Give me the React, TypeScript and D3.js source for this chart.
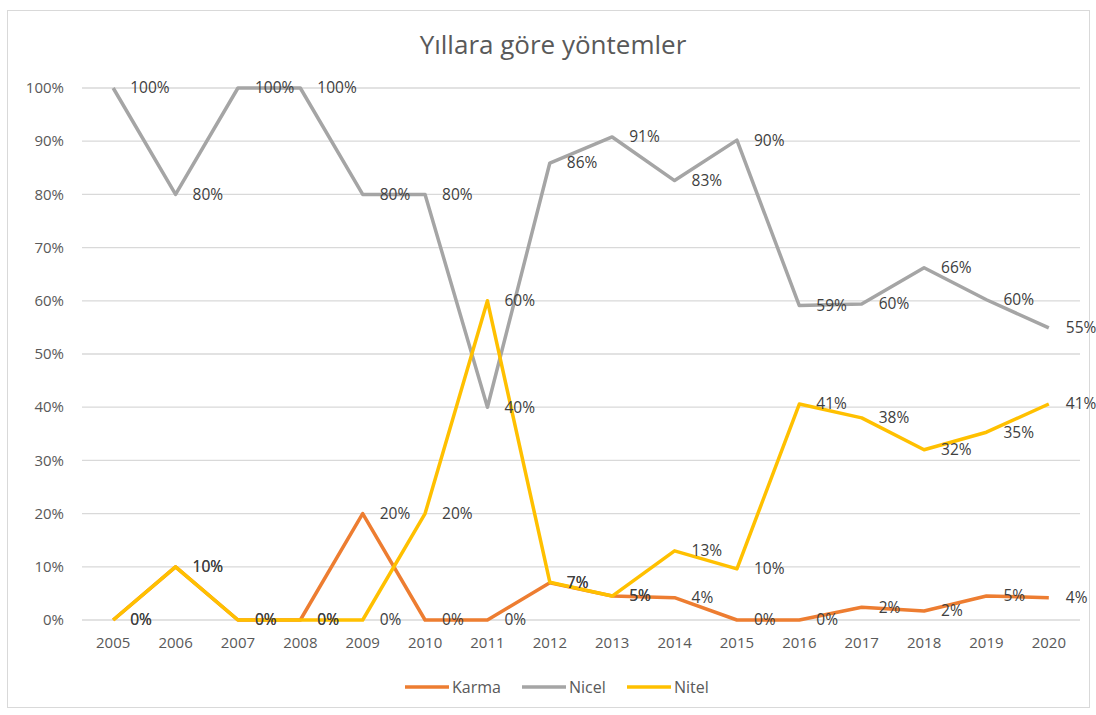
import { useEffect, useRef } from 'react';
import * as d3 from 'd3';

const years = ['2005', '2006', '2007', '2008', '2009', '2010', '2011', '2012', '2013', '2014', '2015', '2016', '2017', '2018', '2019', '2020'];
const karma = [0, 10, 0, 0, 20, 0, 0, 7, 4.5, 4.2, 0, 0, 2.4, 1.7, 4.5, 4.2];
const nicel = [100, 80, 100, 100, 80, 80, 40, 85.9, 90.8, 82.6, 90.2, 59.1, 59.4, 66.2, 60.2, 54.9];
const nitel = [0, 10, 0, 0, 0, 20, 60, 7.1, 4.5, 13, 9.6, 40.6, 38, 32, 35.3, 40.6];
const karmaLabels = ['0%', '10%', '0%', '0%', '20%', '0%', '0%', '7%', '5%', '4%', '0%', '0%', '2%', '2%', '5%', '4%'];
const nicelLabels = ['100%', '80%', '100%', '100%', '80%', '80%', '40%', '86%', '91%', '83%', '90%', '59%', '60%', '66%', '60%', '55%'];
const nitelLabels = ['0%', '10%', '0%', '0%', '0%', '20%', '60%', '7%', '5%', '13%', '10%', '41%', '38%', '32%', '35%', '41%'];
const yTicks = [0, 10, 20, 30, 40, 50, 60, 70, 80, 90, 100];

const series = [
  { name: 'Karma', values: karma, labels: karmaLabels, color: '#ED7D31' },
  { name: 'Nicel', values: nicel, labels: nicelLabels, color: '#A5A5A5' },
  { name: 'Nitel', values: nitel, labels: nitelLabels, color: '#FFC000' },
];

const W = 1096;
const H = 715;
const font = '"Open Sans", "Noto Sans", sans-serif';

export default function App() {
  const svgRef = useRef<SVGSVGElement>(null);

  useEffect(() => {
    if (!svgRef.current) return;
    const svg = d3.select(svgRef.current);
    svg.selectAll('*').remove();

    svg.append('rect').attr('width', W).attr('height', H).attr('fill', '#fff');
    svg.append('rect')
      .attr('x', 7.5).attr('y', 10.5).attr('width', 1082).attr('height', 697)
      .attr('fill', 'none').attr('stroke', '#d9d9d9');

    const left = 82;
    const right = 1080;
    const top = 88;
    const bottom = 620;

    const x = d3.scalePoint().domain(years).range([left, right]).padding(0.5);
    const y = d3.scaleLinear().domain([0, 100]).range([bottom, top]);

    svg.append('text')
      .attr('x', 553).attr('y', 54)
      .attr('text-anchor', 'middle')
      .attr('font-family', font).attr('font-size', 26)
      .attr('fill', '#595959')
      .text('Yıllara göre yöntemler');

    // grid + y labels
    const grid = svg.append('g');
    grid.selectAll('line')
      .data(yTicks)
      .join('line')
      .attr('x1', left).attr('x2', right)
      .attr('y1', (d) => y(d)).attr('y2', (d) => y(d))
      .attr('stroke', '#d9d9d9').attr('stroke-width', 1.3);
    grid.selectAll('text')
      .data(yTicks)
      .join('text')
      .attr('x', 64).attr('y', (d) => y(d))
      .attr('dy', '0.35em')
      .attr('text-anchor', 'end')
      .attr('font-family', font).attr('font-size', 15)
      .attr('fill', '#595959')
      .text((d) => `${d}%`);

    // x labels
    svg.append('g').selectAll('text')
      .data(years)
      .join('text')
      .attr('x', (d) => x(d) ?? 0).attr('y', 643)
      .attr('dy', '0.35em')
      .attr('text-anchor', 'middle')
      .attr('font-family', font).attr('font-size', 15)
      .attr('fill', '#595959')
      .text((d) => d);

    const line = d3.line<number>()
      .x((_, i) => x(years[i]) ?? 0)
      .y((d) => y(d));

    series.forEach((s) => {
      svg.append('path')
        .attr('d', line(s.values))
        .attr('fill', 'none')
        .attr('stroke', s.color)
        .attr('stroke-width', 3.5)
        .attr('stroke-linejoin', 'round');
    });

    series.forEach((s) => {
      svg.append('g').selectAll('text')
        .data(s.values)
        .join('text')
        .attr('x', (_, i) => (x(years[i]) ?? 0) + 17)
        .attr('y', (d) => y(d))
        .attr('dy', '0.35em')
        .attr('font-family', font).attr('font-size', 15.5)
        .attr('fill', '#404040')
        .text((_, i) => s.labels[i]);
    });

    // legend
    const legendX = [405, 522, 627];
    series.forEach((s, i) => {
      const lg = svg.append('g').attr('transform', `translate(${legendX[i]},687)`);
      lg.append('line').attr('x1', 0).attr('x2', 44).attr('stroke', s.color).attr('stroke-width', 3.5);
      lg.append('text')
        .attr('x', 47).attr('dy', '0.35em')
        .attr('font-family', font).attr('font-size', 16)
        .attr('fill', '#595959')
        .text(s.name);
    });
  }, []);

  return (
    <svg
      ref={svgRef}
      width={W}
      height={H}
      style={{ position: 'absolute', left: 0, top: 0 }}
    />
  );
}
